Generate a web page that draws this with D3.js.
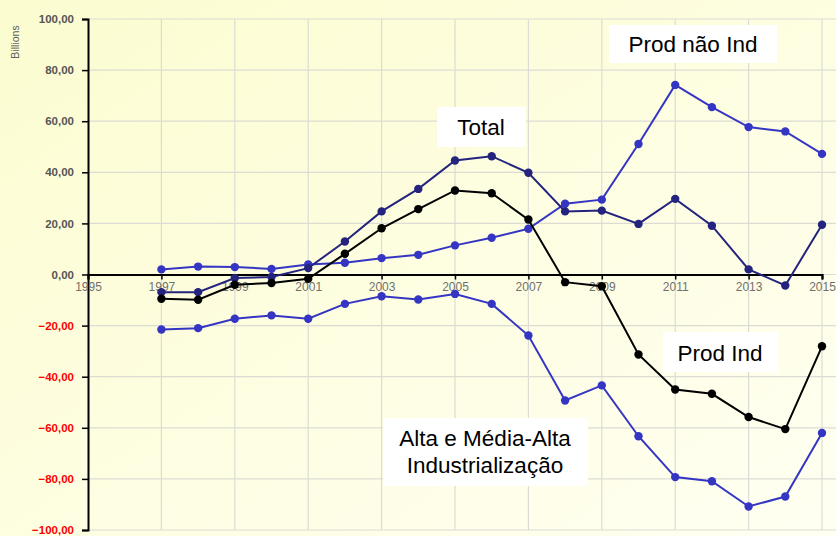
<!DOCTYPE html>
<html><head><meta charset="utf-8">
<script src="https://cdn.jsdelivr.net/npm/d3@7"></script>
<style>body{margin:0;background:#fff;} svg{display:block;}</style>
</head><body>
<svg id="c" width="836" height="536"></svg>
<script>
const years = [1997,1998,1999,2000,2001,2002,2003,2004,2005,2006,2007,2008,2009,2010,2011,2012,2013,2014,2015];
const total = [-6.9,-6.9,-1.4,-1.0,2.5,12.9,24.7,33.5,44.6,46.3,39.8,24.7,25.0,19.8,29.6,19.1,2.0,-4.3,19.5];
const prodNaoInd = [2.0,3.1,2.9,2.2,3.9,4.6,6.4,7.7,11.4,14.4,17.9,27.7,29.3,51.1,74.2,65.5,57.7,56.0,47.2];
const prodInd = [-9.5,-9.9,-4.0,-3.3,-1.7,8.1,18.1,25.6,32.9,31.8,21.5,-3.0,-4.6,-31.3,-45.0,-46.7,-55.8,-60.5,-28.1];
const altaMedia = [-21.5,-21.0,-17.3,-16.0,-17.3,-11.5,-8.5,-9.8,-7.6,-11.5,-23.9,-49.3,-43.4,-63.3,-79.3,-80.9,-90.8,-86.9,-62.0];
const xTicks = [1995,1997,1999,2001,2003,2005,2007,2009,2011,2013,2015];
const yTicks = [-100,-80,-60,-40,-20,0,20,40,60,80,100];

const svg = d3.select("#c");
const defs = svg.append("defs");
const g0 = defs.append("linearGradient").attr("id","bg").attr("x1","0").attr("y1","0").attr("x2","1").attr("y2","1");
g0.append("stop").attr("offset","0").attr("stop-color","#fcfcd0");
g0.append("stop").attr("offset","1").attr("stop-color","#fffff2");
svg.append("rect").attr("width",836).attr("height",536).attr("fill","url(#bg)");

const x = d3.scaleLinear().domain([1995,2015]).range([88,822]);
const y = d3.scaleLinear().domain([-100,100]).range([530,19]);

// grid
svg.append("g").selectAll("line").data(yTicks).join("line")
  .attr("x1",88).attr("x2",836).attr("y1",d=>y(d)).attr("y2",d=>y(d))
  .attr("stroke","#dcdcd4").attr("stroke-width",1.2);
svg.append("g").selectAll("line").data(xTicks.filter(d=>d>1995)).join("line")
  .attr("x1",d=>x(d)).attr("x2",d=>x(d)).attr("y1",y(100)).attr("y2",y(-100))
  .attr("stroke","#dcdcd4").attr("stroke-width",1.2);

// y axis
const yAxis = svg.append("g").attr("transform","translate(88,0)")
  .call(d3.axisLeft(y).tickValues(yTicks).tickSize(6).tickPadding(8)
    .tickFormat(d=>d3.format(".2f")(d).replace(".",",")));
yAxis.select(".domain").attr("stroke","#000").attr("stroke-width",2);
yAxis.selectAll(".tick line").attr("stroke","#000").attr("stroke-width",1.5);
yAxis.selectAll(".tick text").attr("font-family","Liberation Sans, Arial, sans-serif")
  .attr("font-size",11.5).attr("font-weight","bold")
  .attr("fill",d=>d<0?"#ff0000":"#555555");

// x axis at zero
const xAxis = svg.append("g").attr("transform",`translate(0,${y(0)})`)
  .call(d3.axisBottom(x).tickValues(xTicks).tickSize(5).tickPadding(3).tickFormat(d3.format("d")));
xAxis.select(".domain").attr("stroke","#000").attr("stroke-width",2.2);
xAxis.selectAll(".tick line").attr("stroke","#000").attr("stroke-width",1.5);
xAxis.selectAll(".tick text").attr("font-family","Liberation Sans, Arial, sans-serif")
  .attr("font-size",12).attr("fill","#707070");

svg.append("text").attr("transform","translate(19,42) rotate(-90)")
  .attr("text-anchor","middle").attr("font-family","Liberation Sans, Arial, sans-serif")
  .attr("font-size",10.5).attr("fill","#606060").text("Billions");

const series = [
  {name:"Prod não Ind", vals:prodNaoInd, color:"#3535c4"},
  {name:"Alta e Média-Alta", vals:altaMedia, color:"#3535c4"},
  {name:"Total", vals:total, color:"#24247e"},
  {name:"Prod Ind", vals:prodInd, color:"#000000"}
];
const line = d3.line().x((d,i)=>x(years[i])).y(d=>y(d));
series.forEach(s=>{
  const g = svg.append("g");
  g.append("path").attr("d",line(s.vals)).attr("fill","none")
    .attr("stroke",s.color).attr("stroke-width",2);
  g.selectAll("circle").data(s.vals).join("circle")
    .attr("cx",(d,i)=>x(years[i])).attr("cy",d=>y(d)).attr("r",4.2).attr("fill",s.color);
});

// labels
const labels = [
  {lines:["Prod não Ind"], box:[609,25,168,38], cx:693, base:[52]},
  {lines:["Total"], box:[437,107,89,40], cx:481, base:[135]},
  {lines:["Prod Ind"], box:[663,332,115,40], cx:720, base:[361]},
  {lines:["Alta e Média-Alta","Industrialização"], box:[383,418,205,68], cx:485, base:[446,473]}
];
labels.forEach(l=>{
  svg.append("rect").attr("x",l.box[0]).attr("y",l.box[1]).attr("width",l.box[2]).attr("height",l.box[3]).attr("fill","#ffffff");
  l.lines.forEach((t,i)=>{
    svg.append("text").attr("x",l.cx).attr("y",l.base[i]).attr("text-anchor","middle")
      .attr("font-family","Liberation Sans, Arial, sans-serif").attr("font-size",22.5)
      .attr("fill","#000").text(t);
  });
});
</script>
</body></html>
